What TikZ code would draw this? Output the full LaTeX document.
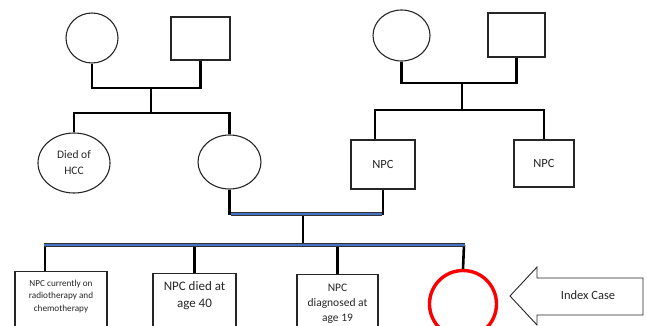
\documentclass[tikz,border=0pt]{standalone}
\usepackage{fontspec}
\setmainfont{Carlito}
\usetikzlibrary{shapes.geometric,positioning,calc}
\definecolor{barblue}{RGB}{68,114,196}
\definecolor{idxred}{RGB}{250,0,0}
\tikzset{
  female/.style={ellipse,draw=black!85,line width=1.1pt,inner sep=0pt},
  male/.style={rectangle,draw=black!85,line width=1.1pt,inner sep=0pt},
  pline/.style={line width=2.6pt,black},
  bline/.style={line width=0.9pt,draw=black!80,double=barblue,double distance=2pt},
  lbl/.style={align=center,text=black!85,inner sep=0pt},
}

\begin{document}
\begin{tikzpicture}[x=1pt,y=-1pt]
\useasboundingbox (0,0) rectangle (647,326);

\node[female,minimum width=52,minimum height=50] (gma1) at (92,38) {};
\node[male,minimum width=59,minimum height=43] (gpa1) at (200.5,38.5) {};
\coordinate (m1) at (151,88);
\coordinate (s1) at (151,113);
\draw[pline] (gma1.south) |- (m1) -| (gpa1.south);
\draw[pline] (m1) -- (s1);

\node[female,lbl,minimum width=72,minimum height=60,font=\fontsize{11.5}{16}\selectfont] (hcc) at (74,163) {Died of\\HCC};
\node[female,minimum width=63,minimum height=54] (mum) at (229.5,162) {};
\draw[pline] (hcc.north) |- (s1) -| (mum.north);

\node[female,minimum width=57,minimum height=51] (gma2) at (401.5,35.5) {};
\node[male,minimum width=57,minimum height=44] (gpa2) at (516.5,35) {};
\coordinate (m2) at (462,83);
\coordinate (s2) at (462,110);
\draw[pline] (gma2.south) |- (m2) -| (gpa2.south);
\draw[pline] (m2) -- (s2);

\node[male,lbl,minimum width=64,minimum height=49,font=\fontsize{12.5}{15}\selectfont] (dad) at (383,164.5) {NPC};
\node[male,lbl,minimum width=60,minimum height=47,font=\fontsize{12.5}{15}\selectfont] (unc) at (544,163.5) {NPC};
\draw[pline] ($(dad.north)+(-8,0)$) |- (s2) -| (unc.north);

\coordinate (mm) at (303,214);
\coordinate (c) at (303,245);
\draw[pline] (mum.south) |- (mm) -| (dad.south);
\draw[pline] (mm) -- (c);
\draw[bline,shorten <=1.3pt,shorten >=1.3pt] (mum.south |- mm) -- (dad.south |- mm);

\node[male,minimum width=92,minimum height=75,anchor=north] (k1) at (61,271) {};
\node[male,minimum width=83,minimum height=75,anchor=north] (k2) at (194.5,273) {};
\node[male,minimum width=81,minimum height=75,anchor=north] (k3) at (337.5,274) {};
\node[female,draw=idxred,line width=3.4pt,minimum size=67] (idx) at (463,304) {};

\coordinate (cl) at (45,245);
\coordinate (cr) at (464,245);
\draw[pline] (cl) -- (cl |- k1.north);
\draw[pline] (k2.north |- c) -- (k2.north);
\draw[pline] (k3.north |- c) -- (k3.north);
\draw[pline] (cr) -- (idx.north);
\draw[bline,shorten <=-1.3pt,shorten >=-1.3pt] (cl) -- (cr);

\node[lbl,font=\fontsize{9.2}{12.3}\selectfont,below=9pt of k1.north] (t1) {NPC currently on\\radiotherapy and\\chemotherapy};
\node[lbl,font=\fontsize{13}{17}\selectfont,below=8pt of k2.north] (t2) {NPC died at\\age 40};
\node[lbl,font=\fontsize{11.5}{15}\selectfont,below=10pt of k3.north] (t3) {NPC\\diagnosed at\\age 19};

\draw[line width=0.9pt,black!85,line join=miter] (643,278) -- (537,278) -- (537,267) -- (510,296) -- (537,325) -- (537,315) -- (643,315) -- cycle;
\node[lbl,font=\fontsize{12.5}{15}\selectfont] (ixt) at (588,295) {Index Case};
\end{tikzpicture}
\end{document}
